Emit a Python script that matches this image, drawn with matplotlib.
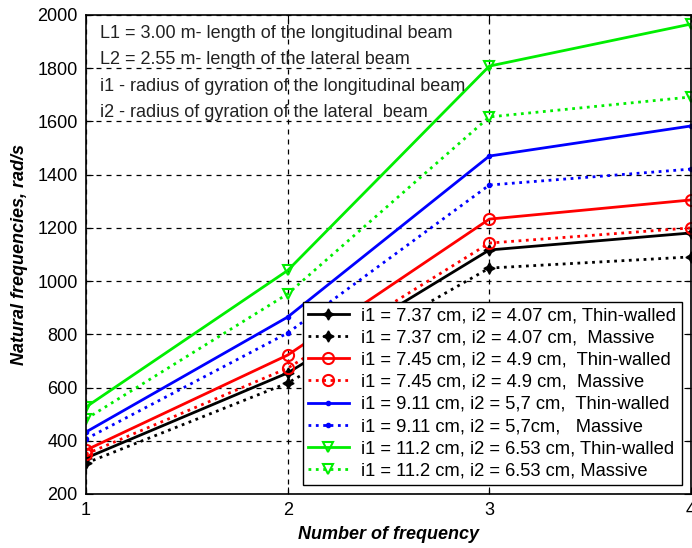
import matplotlib
matplotlib.use("Agg")
import matplotlib.pyplot as plt

plt.rcParams['font.family'] = ['Liberation Sans', 'DejaVu Sans']

freq_no = [1, 2, 3, 4]

# natural frequencies, rad/s
black_thin = [335, 655, 1117, 1181]
black_mass = [316, 617, 1049, 1091]
red_thin = [365, 722, 1233, 1305]
red_mass = [350, 673, 1143, 1200]
blue_thin = [433, 865, 1470, 1583]
blue_mass = [407, 805, 1361, 1421]
green_thin = [527, 1040, 1808, 1966]
green_mass = [482, 952, 1617, 1692]

labels = [
    "i1 = 7.37 cm, i2 = 4.07 cm, Thin-walled",
    "i1 = 7.37 cm, i2 = 4.07 cm,  Massive",
    "i1 = 7.45 cm, i2 = 4.9 cm,  Thin-walled",
    "i1 = 7.45 cm, i2 = 4.9 cm,  Massive",
    "i1 = 9.11 cm, i2 = 5,7 cm,  Thin-walled",
    "i1 = 9.11 cm, i2 = 5,7cm,   Massive",
    "i1 = 11.2 cm, i2 = 6.53 cm, Thin-walled",
    "i1 = 11.2 cm, i2 = 6.53 cm, Massive",
]

notes = [
    "L1 = 3.00 m- length of the longitudinal beam",
    "L2 = 2.55 m- length of the lateral beam",
    "i1 - radius of gyration of the longitudinal beam",
    "i2 - radius of gyration of the lateral  beam",
]
note_y = [1932, 1831, 1730, 1632]

fig = plt.figure(figsize=(6.92, 5.48), dpi=100)
ax = fig.add_axes([86/692, 54/548, 605/692, 479/548])

star4 = (4, 1, 0)
ax.plot(freq_no, black_thin, color='k', ls='-', lw=2, marker=star4, ms=8, label=labels[0])
ax.plot(freq_no, black_mass, color='k', ls=':', lw=2, marker=star4, ms=8, label=labels[1])
ax.plot(freq_no, red_thin, color='red', ls='-', lw=2, marker='o', ms=8, mfc='none', mew=1.5, label=labels[2])
ax.plot(freq_no, red_mass, color='red', ls=':', lw=2, marker='o', ms=8, mfc='none', mew=1.5, label=labels[3])
ax.plot(freq_no, blue_thin, color='blue', ls='-', lw=2, marker='.', ms=6, label=labels[4])
ax.plot(freq_no, blue_mass, color='blue', ls=':', lw=2, marker='.', ms=6, label=labels[5])
ax.plot(freq_no, green_thin, color='#00ee00', ls='-', lw=2, marker='v', ms=7, mfc='none', mew=1.5, label=labels[6])
ax.plot(freq_no, green_mass, color='#00ee00', ls=':', lw=2, marker='v', ms=7, mfc='none', mew=1.5, label=labels[7])

ax.set_xlim(1, 4)
ax.set_ylim(200, 2000)
ax.set_xticks([1, 2, 3, 4])
ax.set_yticks(range(200, 2001, 200))
ax.grid(True, color='k', ls=(0, (4, 4)), lw=0.9)
ax.tick_params(direction='in', top=True, right=True, labelsize=13, length=5, pad=6)
for s in ax.spines.values():
    s.set_linewidth(1.2)

for t, y in zip(notes, note_y):
    ax.text(1.07, y, t, fontsize=13, va='center', ha='left', color='#222222')

ax.set_xlabel("Number of frequency", fontsize=13, fontweight='bold', fontstyle='italic', labelpad=5)
ax.set_ylabel("Natural frequencies, rad/s", fontsize=13, fontweight='bold', fontstyle='italic', labelpad=7)

leg = ax.legend(loc='lower right', fontsize=13.2, frameon=True, fancybox=False,
                edgecolor='k', framealpha=1, handlelength=2.2, labelspacing=0.28,
                borderaxespad=0.5, borderpad=0.3, handletextpad=0.7)
leg.get_frame().set_linewidth(1.0)

fig.savefig("out.png", dpi=100)
